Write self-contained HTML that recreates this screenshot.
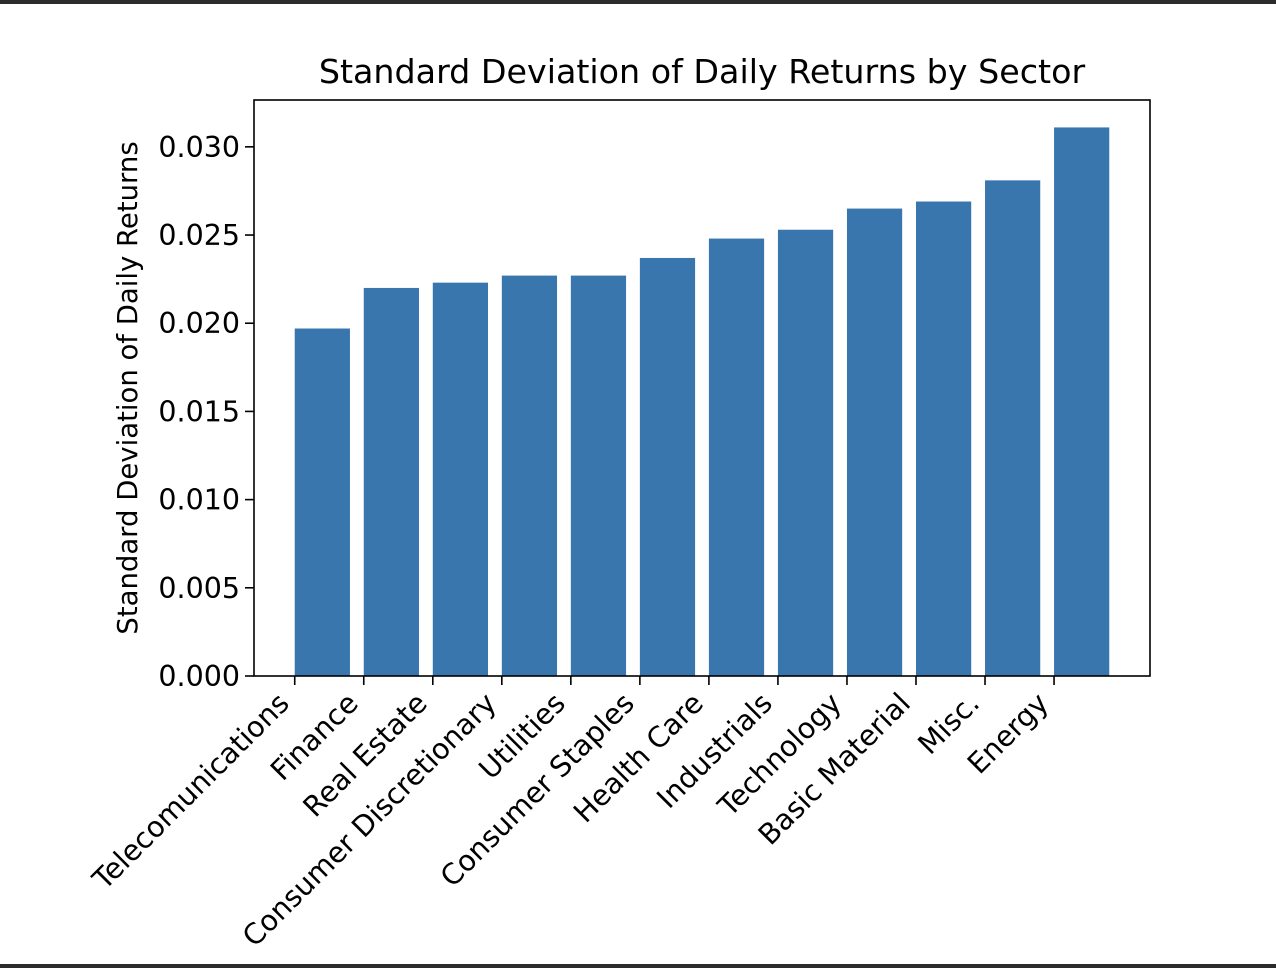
<!DOCTYPE html>
<html><head><meta charset="utf-8"><style>
html,body{margin:0;padding:0;background:#fff;}
svg{display:block;font-family:"DejaVu Sans","Liberation Sans",sans-serif;}
</style></head><body>
<svg id="chart" width="1276" height="968">
<rect x="0" y="0" width="1276" height="4" fill="#2b2b2b"/>
<rect x="0" y="964" width="1276" height="4" fill="#2b2b2b"/>
<text x="702" y="83" font-size="33.3" text-anchor="middle" fill="#000">Standard Deviation of Daily Returns by Sector</text>
<text transform="translate(137,388) rotate(-90)" font-size="27.5" text-anchor="middle" fill="#000">Standard Deviation of Daily Returns</text>
<g id="bars"></g><g id="yticks"></g><g id="xticks"></g>
<rect x="254" y="100" width="896" height="576" fill="none" stroke="#000" stroke-width="1.6"/>
</svg>
<script>
const categories = ["Telecomunications","Finance","Real Estate","Consumer Discretionary","Utilities","Consumer Staples","Health Care","Industrials","Technology","Basic Material","Misc.","Energy"];
const values = [0.0197,0.0220,0.0223,0.0227,0.0227,0.0237,0.0248,0.0253,0.0265,0.0269,0.0281,0.0311];
const yTickLabels = ["0.000","0.005","0.010","0.015","0.020","0.025","0.030"];
const yTickValues = [0,0.005,0.010,0.015,0.020,0.025,0.030];

const L=254,R=1150,T=100,B=676;
const n=categories.length;
const xmin=-0.05*(n-1+0.8), xmax=(n-1+0.8)*1.05;
const ymax=Math.max(...values)*1.05;
const xs=v=>L+(v-xmin)/(xmax-xmin)*(R-L);
const ys=v=>B-v/ymax*(B-T);
const NS="http://www.w3.org/2000/svg";
function mk(tag,attrs,parent){const e=document.createElementNS(NS,tag);for(const k in attrs)e.setAttribute(k,attrs[k]);parent.appendChild(e);return e;}
const gb=document.getElementById('bars'),gy=document.getElementById('yticks'),gx=document.getElementById('xticks');
values.forEach((v,i)=>{
  const r=mk('rect',{x:xs(i),y:ys(v),width:xs(i+0.8)-xs(i),height:B-ys(v),fill:'#3a76ae'},gb);
  
  
});
yTickValues.forEach((v,i)=>{
  const y=ys(v);
  const t=mk('line',{x1:L,x2:L-9,y1:y,y2:y,stroke:'#000','stroke-width':1.6},gy);
  
  
  const tx=mk('text',{x:L-14,y:y+10,'font-size':28.5,'text-anchor':'end',fill:'#000'},gy);
  tx.textContent=yTickLabels[i];
  
  
});
categories.forEach((c,i)=>{
  const x=xs(i);
  const t=mk('line',{x1:x,x2:x,y1:B,y2:B+9,stroke:'#000','stroke-width':1.6},gx);
  
  
  const tx=mk('text',{transform:`translate(${x-4},${B+29}) rotate(-45)`,'font-size':28.5,'text-anchor':'end',fill:'#000'},gx);
  tx.textContent=c;
  
  
});
</script>
</body></html>
